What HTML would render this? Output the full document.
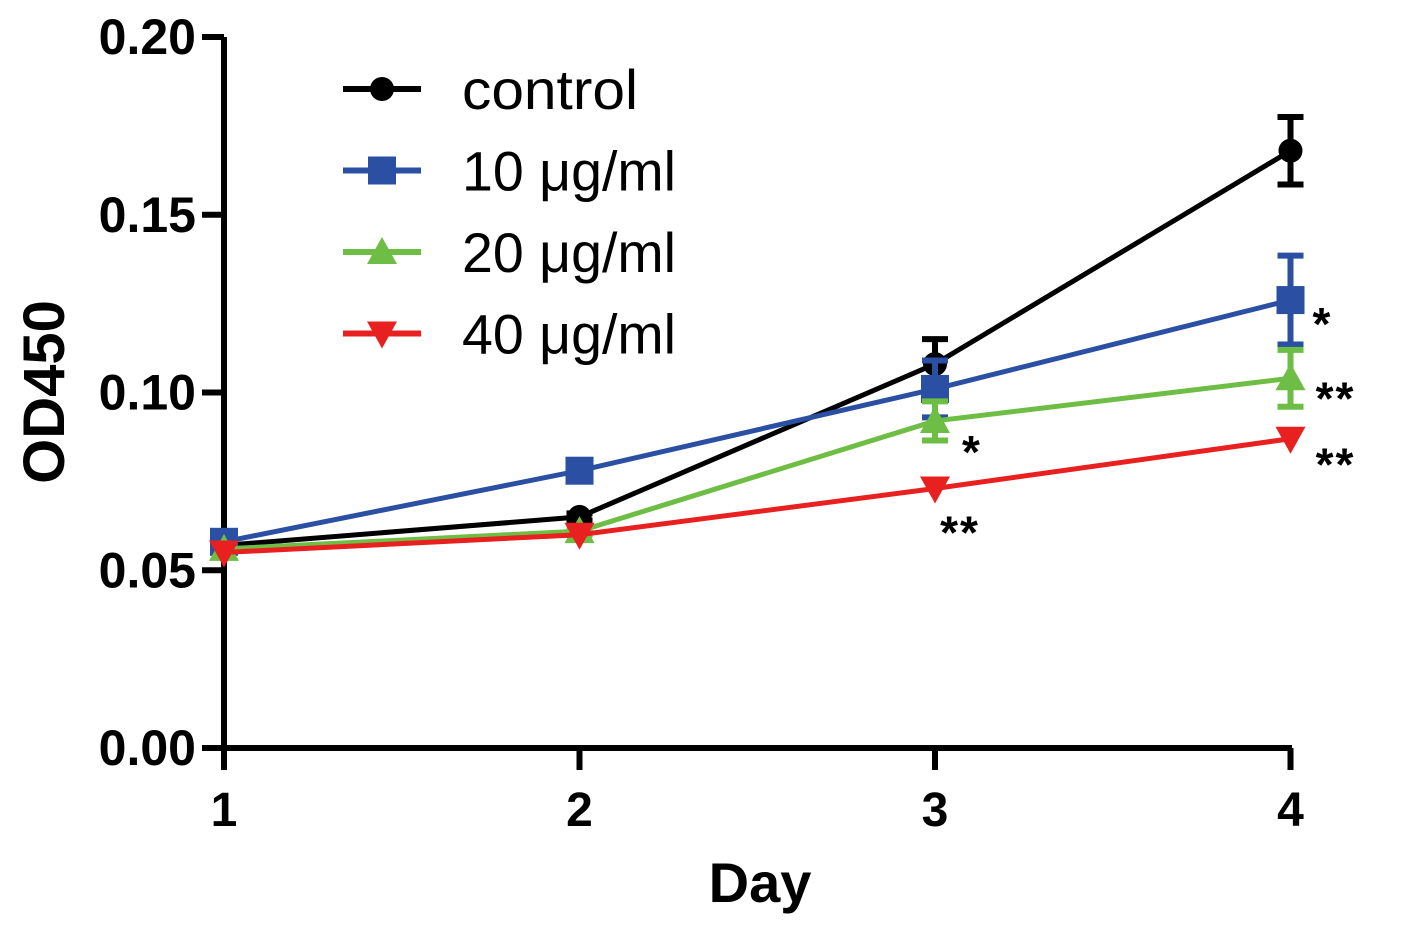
<!DOCTYPE html>
<html><head><meta charset="utf-8"><style>
html,body{margin:0;padding:0;background:#fff;}
svg{display:block;font-family:"Liberation Sans",Arial,sans-serif;}
</style></head><body>
<svg id="chart" width="1402" height="932" viewBox="0 0 1402 932"></svg>
<script>
const days=[1,2,3,4];
const yTicks=[0,0.05,0.10,0.15,0.20];
const yTickLabels=["0.00","0.05","0.10","0.15","0.20"];
const seriesNames=["control","10 μg/ml","20 μg/ml","40 μg/ml"];
const controlVals=[0.057,0.065,0.108,0.168];
const controlErr=[0,0.001,0.007,0.0095];
const c10Vals=[0.058,0.078,0.101,0.126];
const c10Err=[0,0.001,0.008,0.0125];
const c20Vals=[0.056,0.061,0.092,0.104];
const c20Err=[0,0.001,0.0055,0.008];
const c40Vals=[0.055,0.060,0.073,0.087];
const c40Err=[0,0,0,0];
const sigLabels=[["*",4,0.126],["**",4,0.104],["**",4,0.087],["*",3,0.092],["**",3,0.073]];
const sigOffsets=[[32,18],[45,14],[45,20],[37,25],[25,38]];

const NS="http://www.w3.org/2000/svg";
const svg=document.getElementById('chart');
const X=d=>224+(d-1)*355.5;
const Y=v=>748-v*3555;
function mk(tag,attrs,parent){const e=document.createElementNS(NS,tag);for(const k in attrs)e.setAttribute(k,attrs[k]);(parent||svg).appendChild(e);return e;}

const ax=mk('path',{d:`M224 ${Y(0.2)} V748 H1292`,stroke:'#000','stroke-width':6,fill:'none'});


yTicks.forEach((t,i)=>{
 const tk=mk('line',{x1:202,x2:224,y1:Y(t),y2:Y(t),stroke:'#000','stroke-width':6});
 
 
 const tx=mk('text',{x:196,y:Y(t)+17,'text-anchor':'end','font-size':50,'font-weight':'bold'});
 tx.textContent=yTickLabels[i];
 
 
});
days.forEach(d=>{
 const tk=mk('line',{x1:X(d),x2:X(d),y1:748,y2:770,stroke:'#000','stroke-width':6});
 
 
 const tx=mk('text',{x:X(d),y:826,'text-anchor':'middle','font-size':48,'font-weight':'bold'});
 tx.textContent=d;
 
 
});
const xt=mk('text',{x:760,y:902,'text-anchor':'middle','font-size':56,'font-weight':'bold'});
xt.textContent='Day';


const yt=mk('text',{x:0,y:0,'text-anchor':'middle','font-size':58,'font-weight':'bold',transform:'translate(64,392) rotate(-90)'});
yt.textContent='OD450';



function marker(shape,x,y,color,g){
 if(shape==='circle')return mk('circle',{cx:x,cy:y,r:12,fill:color},g);
 if(shape==='square')return mk('rect',{x:x-14,y:y-14,width:28,height:28,fill:color},g);
 if(shape==='up')return mk('polygon',{points:`${x-15},${y+12} ${x+15},${y+12} ${x},${y-15}`,fill:color},g);
 return mk('polygon',{points:`${x-15},${y-12} ${x+15},${y-12} ${x},${y+15}`,fill:color},g);
}
const series=[
 {name:'control',vals:controlVals,err:controlErr,color:'#000000',shape:'circle'},
 {name:'10-ug-ml',vals:c10Vals,err:c10Err,color:'#2a4fa3',shape:'square'},
 {name:'20-ug-ml',vals:c20Vals,err:c20Err,color:'#6ebd45',shape:'up'},
 {name:'40-ug-ml',vals:c40Vals,err:c40Err,color:'#e8201f',shape:'down'}
];
series.forEach(s=>{
 const g=mk('g',{});
 
 
 s.vals.forEach((v,i)=>{
  if(s.err[i]>0){
   const x=X(days[i]),y1=Y(v+s.err[i]),y2=Y(v-s.err[i]);
   const eb=mk('path',{d:`M${x} ${y1} V${y2} M${x-13} ${y1} H${x+13} M${x-13} ${y2} H${x+13}`,stroke:s.color,'stroke-width':6,fill:'none'},g);
   
   
  }
 });
 const pts=s.vals.map((v,i)=>X(days[i])+','+Y(v)).join(' ');
 const ln=mk('polyline',{points:pts,stroke:s.color,'stroke-width':5,fill:'none'},g);
 
 
 s.vals.forEach((v,i)=>{
  const m=marker(s.shape,X(days[i]),Y(v),s.color,g);
  
  
 });
});
sigLabels.forEach(([t,d,v],i)=>{
 const tx=mk('text',{x:X(d)+sigOffsets[i][0],y:Y(v)+sigOffsets[i][1]+22,'text-anchor':'middle','font-size':46,'font-weight':'bold','letter-spacing':2});
 tx.textContent=t;
 
 
});
const lg=mk('g',{});


series.forEach((s,i)=>{
 const y=89+i*81.5;
 const e=mk('g',{},lg);
 
 
 mk('line',{x1:343,x2:421,y1:y,y2:y,stroke:s.color,'stroke-width':6},e);
 marker(s.shape,382,y,s.color,e);
 const tx=mk('text',{x:462,y:y+20,'font-size':56,'textLength':i===0?176:214,'lengthAdjust':'spacingAndGlyphs'},e);
 tx.textContent=seriesNames[i];
});
</script>
</body></html>
